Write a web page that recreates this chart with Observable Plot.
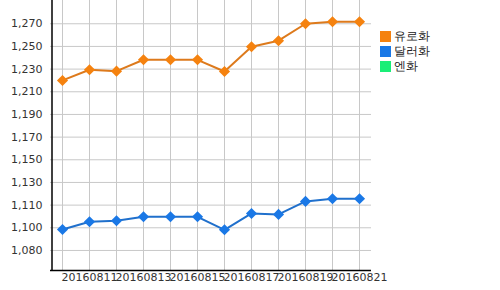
<!DOCTYPE html>
<html><head><meta charset="utf-8">
<script src="https://cdn.jsdelivr.net/npm/d3@7"></script>
<script src="https://cdn.jsdelivr.net/npm/@observablehq/plot@0.6"></script>
<style>
body{margin:0;background:#fff;font-family:"DejaVu Sans",sans-serif;}
#wrap{position:relative;width:500px;height:290px;}
#legend{position:absolute;left:380px;top:29px;font-size:12px;color:#222;line-height:15px;}
#legend div{display:flex;align-items:center;height:15px;}
#legend span.sw{display:inline-block;width:11px;height:11px;margin-right:3px;}
</style></head>
<body><div id="wrap"><div id="legend"></div></div>
<script>
const dates = ["20160810","20160811","20160812","20160813","20160814","20160815","20160816","20160817","20160818","20160819","20160820","20160821"];
const eur = [1222.5,1231.5,1230.3,1239.8,1239.8,1239.8,1230.0,1250.7,1255.8,1270.0,1271.7,1271.7];
const usd = [1097.6,1104.0,1104.9,1108.2,1108.2,1108.2,1097.3,1111.0,1110.2,1121.1,1123.3,1123.3];
const seriesNames = ["유로화","달러화","엔화"];
const seriesColors = ["#f5820f","#1a78e6","#1aee77"];
const lineColors = ["#dd7a1c","#2070cc"];
const yTicks = [1080,1099,1118,1137,1156,1175,1194,1213,1232,1251,1270];
const yLabels = ["1,080","1,100","1,110","1,130","1,150","1,170","1,190","1,210","1,230","1,250","1,270"];
const xLabelDates = ["20160811","20160813","20160815","20160817","20160819","20160821"];

const rows = [];
dates.forEach((d,i)=>{ rows.push({date:d, value:eur[i], s:seriesNames[0]}); rows.push({date:d, value:usd[i], s:seriesNames[1]}); });
const labelMap = new Map(yTicks.map((t,i)=>[t,yLabels[i]]));

const chart = Plot.plot({
  width:500, height:290,
  marginLeft:50, marginRight:129, marginTop:0, marginBottom:20,
  style:{fontFamily:"DejaVu Sans", fontSize:"11px", color:"#333", background:"#fff"},
  x:{type:"point", domain:dates, padding:0.38, axis:null},
  y:{domain:[1063.2,1289.5], axis:null},
  marks:[
    Plot.ruleX(dates, {x:d=>d, stroke:"#c8c8c8", strokeOpacity:1, strokeWidth:1}),
    Plot.ruleY(yTicks, {y:d=>d, stroke:"#c8c8c8", strokeOpacity:1, strokeWidth:1}),
    Plot.axisY({ticks:yTicks, tickFormat:d=>labelMap.get(d), tickSize:0, tickPadding:8, fontSize:11, color:"#333", label:null}),
    Plot.axisX({ticks:xLabelDates, tickSize:0, tickPadding:3, fontSize:11, label:null}),
    Plot.ruleX([dates[0]], {x:d=>d, dx:-10.5, stroke:"#000", strokeWidth:1.5}),
    Plot.ruleY([1063.2], {stroke:"#000", strokeWidth:1.5}),
    Plot.line(rows.filter(r=>r.s===seriesNames[0]), {x:"date", y:"value", stroke:lineColors[0], strokeWidth:2}),
    Plot.line(rows.filter(r=>r.s===seriesNames[1]), {x:"date", y:"value", stroke:lineColors[1], strokeWidth:2}),
    Plot.dot(rows.filter(r=>r.s===seriesNames[0]), {x:"date", y:"value", fill:seriesColors[0], symbol:"diamond2", r:5}),
    Plot.dot(rows.filter(r=>r.s===seriesNames[1]), {x:"date", y:"value", fill:seriesColors[1], symbol:"diamond2", r:5})
  ]
});
document.getElementById("wrap").prepend(chart);
const lg = document.getElementById("legend");
seriesNames.forEach((n,i)=>{
  const row=document.createElement("div");
  row.innerHTML=`<span class="sw" style="background:${seriesColors[i]}"></span>${n}`;
  lg.appendChild(row);
});
</script></body></html>
